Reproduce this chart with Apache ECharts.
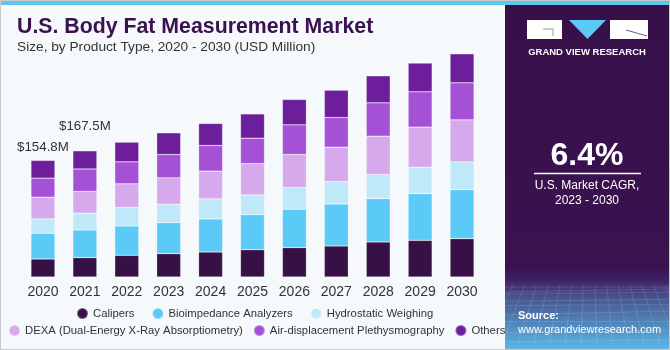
<!DOCTYPE html>
<html>
<head>
<meta charset="utf-8">
<script src="https://cdn.jsdelivr.net/npm/echarts@6/dist/echarts.min.js"></script>
<style>
html,body{margin:0;padding:0;background:#f5f9fc;}
#c{width:670px;height:350px;}
</style>
</head>
<body>
<div id="c"></div>
<script>
const years = ['2020','2021','2022','2023','2024','2025','2026','2027','2028','2029','2030'];
const seriesNames = ['Calipers','Bioimpedance Analyzers','Hydrostatic Weighing','DEXA (Dual-Energy X-Ray Absorptiometry)','Air-displacement Plethysmography','Others'];
const calipers      = [23.9, 25.7, 28.8, 31.0, 33.2, 36.3, 39.0, 41.2, 46.5, 48.7, 50.9];
const bioimpedance  = [34.2, 36.8, 39.0, 41.2, 43.9, 46.5, 50.9, 55.8, 57.6, 62.0, 65.1];
const hydrostatic   = [19.0, 22.2, 24.4, 24.4, 26.6, 26.1, 28.8, 29.7, 31.9, 35.0, 36.8];
const dexa          = [28.8, 28.8, 31.5, 35.0, 36.8, 41.6, 43.9, 45.6, 50.9, 53.2, 55.8];
const airDisp       = [25.3, 29.9, 29.2, 31.0, 34.1, 33.7, 39.4, 39.4, 44.3, 47.0, 49.2];
const others        = [23.6, 24.1, 26.1, 28.8, 29.2, 32.3, 33.7, 36.3, 35.9, 38.1, 38.5];
const totalLabels   = ['$154.8M', '$167.5M'];
const colors = ['#371046','#5ccaf6','#bfe9f9','#d6a9ec','#a551d6','#6d1f9b'];

const chart = echarts.init(document.getElementById('c'));
const dataSets = [calipers, bioimpedance, hydrostatic, dexa, airDisp, others];
const labelDistances = [7, 18];

const series = dataSets.map((arr, i) => ({
  name: seriesNames[i],
  type: 'bar',
  stack: 'total',
  barWidth: 24,
  itemStyle: { color: colors[i], borderColor: 'rgba(255,255,255,0.35)', borderWidth: 0.6 },
  data: arr.map((v, j) => {
    if (i === 5 && j < totalLabels.length) {
      return {
        value: v,
        label: {
          show: true, position: 'top', distance: labelDistances[j],
          formatter: totalLabels[j], color: '#333', fontSize: 13.3,
          fontFamily: 'Liberation Sans, Arial, sans-serif'
        }
      };
    }
    return v;
  })
}));

// panel decoration lines (perspective grid)
const deco = [];
for (let k = 0; k < 14; k++) {
  const x0 = 505 + k * 13;
  deco.push({ type: 'line', shape: { x1: 505 + (x0 - 505) * 0.9 + 8, y1: 285, x2: x0 - 20 + k * 3, y2: 347 },
    style: { stroke: 'rgba(255,255,255,0.12)', lineWidth: 1 }, silent: true });
}
let yy = 287;
for (let k = 0; k < 10; k++) {
  deco.push({ type: 'line', shape: { x1: 505, y1: yy + (k % 2) * 2, x2: 670, y2: yy - (k % 3) },
    style: { stroke: 'rgba(255,255,255,0.12)', lineWidth: 1 }, silent: true });
  yy += 3 + k * 1.1;
}

const legendText = { color: '#333', fontSize: 11.3 };
const option = {
  backgroundColor: '#f5f9fc',
  animation: false,
  textStyle: { fontFamily: 'Liberation Sans, Arial, sans-serif' },
  grid: { left: 22, width: 461, top: 51, height: 226 },
  xAxis: {
    type: 'category', data: years,
    axisLine: { show: false }, axisTick: { show: false },
    axisLabel: { color: '#333', fontSize: 14, margin: 8 }
  },
  yAxis: { type: 'value', min: 0, max: 300, show: false, splitLine: { show: false } },
  legend: [
    {
      data: seriesNames.slice(0, 3), left: 71, top: 302,
      icon: 'circle', itemWidth: 11, itemHeight: 11, itemGap: 17,
      textStyle: legendText
    },
    {
      data: seriesNames.slice(3), left: 3, top: 319,
      icon: 'circle', itemWidth: 11, itemHeight: 11, itemGap: 10,
      textStyle: legendText
    }
  ],
  series: series,
  graphic: [
    { type: 'rect', shape: { x: 0, y: 0, width: 670, height: 5 }, style: { fill: '#5ec7f1' }, z: 10 },
    { type: 'rect', shape: { x: 505, y: 5, width: 165, height: 345 },
      style: { fill: new echarts.graphic.LinearGradient(0, 0, 0, 1, [
        { offset: 0, color: '#37104a' }, { offset: 0.76, color: '#3a124f' },
        { offset: 0.8, color: '#3e2468' }, { offset: 0.85, color: '#48568f' },
        { offset: 1, color: '#5ab9e8' }]) }, z: 1 },
    ...deco.map(d => Object.assign(d, { z: 2 })),
    { type: 'rect', shape: { x: 0, y: 0, width: 670, height: 350 }, style: { fill: 'none', stroke: '#c9c9c9', lineWidth: 2 }, z: 11, silent: true },
    // title
    { type: 'text', left: 17, top: 17, style: { text: 'U.S. Body Fat Measurement Market', fill: '#3a1250',
      font: 'bold 21.3px "Liberation Sans", Arial, sans-serif' }, z: 5 },
    { type: 'text', left: 17, top: 40, style: { text: 'Size, by Product Type, 2020 - 2030 (USD Million)', fill: '#333',
      font: '13.7px "Liberation Sans", Arial, sans-serif' }, z: 5 },
    // logo
    { type: 'rect', shape: { x: 527, y: 20, width: 35, height: 19 }, style: { fill: '#ffffff' }, z: 5 },
    { type: 'polyline', shape: { points: [[543, 29], [553, 29], [553, 36]] }, style: { stroke: '#9a9aa8', lineWidth: 1, fill: 'none' }, z: 6 },
    { type: 'polygon', shape: { points: [[569, 20], [606, 20], [587.5, 39]] }, style: { fill: '#5ccaf6' }, z: 5 },
    { type: 'rect', shape: { x: 610, y: 20, width: 38, height: 19 }, style: { fill: '#ffffff' }, z: 5 },
    { type: 'line', shape: { x1: 626, y1: 30, x2: 647, y2: 36 }, style: { stroke: '#6a5a80', lineWidth: 1 }, z: 6 },
    { type: 'text', x: 587, y: 52, style: { text: 'GRAND VIEW RESEARCH', fill: '#ffffff', align: 'center', verticalAlign: 'middle',
      font: 'bold 9.5px "Liberation Sans", Arial, sans-serif' }, z: 5 },
    // CAGR
    { type: 'text', x: 587, y: 156, style: { text: '6.4%', fill: '#ffffff', align: 'center', verticalAlign: 'middle',
      font: 'bold 32px "Liberation Sans", Arial, sans-serif' }, z: 5 },
    { type: 'line', shape: { x1: 534, y1: 173.5, x2: 641, y2: 173.5 }, style: { stroke: '#ffffff', lineWidth: 1.5 }, z: 5 },
    { type: 'text', x: 587, y: 186, style: { text: 'U.S. Market CAGR,', fill: '#ffffff', align: 'center', verticalAlign: 'middle',
      font: '12px "Liberation Sans", Arial, sans-serif' }, z: 5 },
    { type: 'text', x: 587, y: 201, style: { text: '2023 - 2030', fill: '#ffffff', align: 'center', verticalAlign: 'middle',
      font: '12px "Liberation Sans", Arial, sans-serif' }, z: 5 },
    // source
    { type: 'text', x: 518, y: 316, style: { text: 'Source:', fill: '#ffffff', verticalAlign: 'middle',
      font: 'bold 11px "Liberation Sans", Arial, sans-serif' }, z: 5 },
    { type: 'text', x: 518, y: 330, style: { text: 'www.grandviewresearch.com', fill: '#ffffff', verticalAlign: 'middle',
      font: '11px "Liberation Sans", Arial, sans-serif' }, z: 5 }
  ]
};
chart.setOption(option);
</script>
</body>
</html>
